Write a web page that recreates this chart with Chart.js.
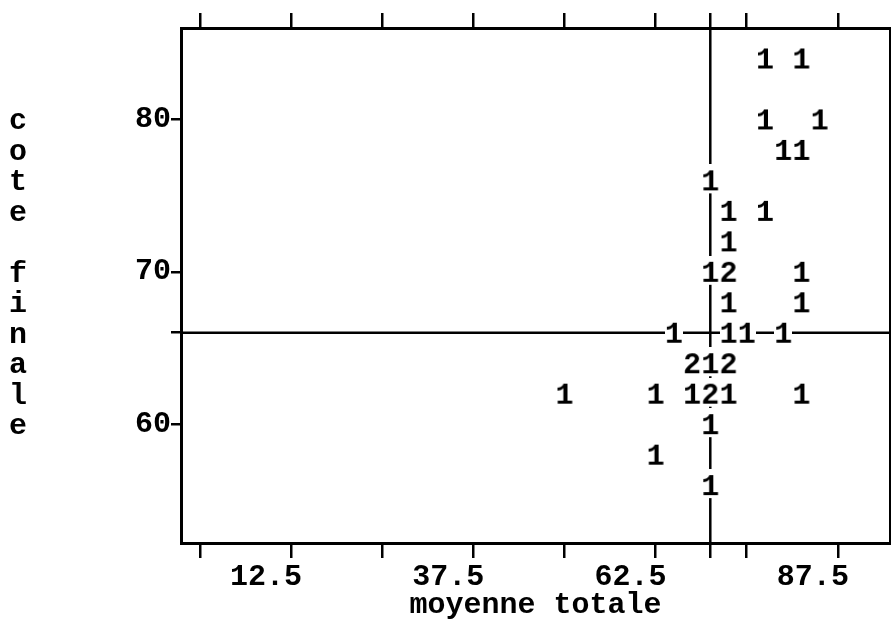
<!DOCTYPE html>
<html>
<head>
<meta charset="utf-8">
<script src="https://cdn.jsdelivr.net/npm/chart.js@4.4.1/dist/chart.umd.min.js"></script>
<style>
  html, body { margin: 0; padding: 0; background: #fff; }
</style>
</head>
<body>
<canvas id="plot" width="891" height="620"></canvas>
<script>
// one entry per printed cell: moyenne totale, cote finale, number of students
const xValues = [77.5, 82.5, 77.5, 85, 80, 82.5, 70, 72.5, 77.5, 72.5, 70, 72.5, 82.5, 72.5, 82.5,
                 65, 72.5, 75, 80, 67.5, 70, 72.5, 50, 62.5, 67.5, 70, 72.5, 82.5, 70, 62.5, 70];
const yValues = [84, 84, 80, 80, 78, 78, 76, 74, 74, 72, 70, 70, 70, 68, 68,
                 66, 66, 66, 66, 64, 64, 64, 62, 62, 62, 62, 62, 62, 60, 58, 56];
const counts  = [1, 1, 1, 1, 1, 1, 1, 1, 1, 1, 1, 2, 1, 1, 1,
                 1, 1, 1, 1, 2, 1, 2, 1, 1, 1, 2, 1, 1, 1, 1, 1];

// reference lines
const refX = 70;
const refY = 66;

// axes
const xTicks = [0, 12.5, 25, 37.5, 50, 62.5, 75, 87.5];
const xTickLabels = [12.5, 37.5, 62.5, 87.5];
const yTicks = [60, 70, 80];
const xMin = -2.6, xMax = 94.65;
const yMin = 52.2, yMax = 86;

const xTitle = 'moyenne totale';
const yTitle = 'cote finale';

const FONT = '"Liberation Mono", "DejaVu Sans Mono", monospace';
const FONT_SIZE = 30;

// digit drawn on a white cell, so the reference lines break around it
function digitImage(n) {
    const c = document.createElement('canvas');
    c.width = 18;
    c.height = 32;
    const g = c.getContext('2d');
    g.fillStyle = '#fff';
    g.fillRect(0, 0, 18, 29);
    g.font = 'bold ' + FONT_SIZE + 'px ' + FONT;
    g.fillStyle = '#000';
    g.textAlign = 'center';
    const m = g.measureText(String(n));
    const base = 16 + (m.actualBoundingBoxAscent - m.actualBoundingBoxDescent) / 2;
    g.fillText(String(n), 9, base);
    return c;
}
const digits = { 1: digitImage(1), 2: digitImage(2) };

const marks = xValues.map((x, i) => ({ x: x, y: yValues[i] }));

const tickFont = { family: FONT, size: FONT_SIZE, weight: 'bold', lineHeight: 1 };

function setTicks(values) {
    return function (scale) {
        scale.ticks = values.slice().sort((a, b) => a - b).map(v => ({ value: v }));
    };
}

// keep the frame where it is in the picture: no extra room for labels
function fixSize(w, h) {
    return function (s) {
        if (w !== null) s.width = w;
        if (h !== null) s.height = h;
        s.paddingLeft = 0;
        s.paddingRight = 0;
        s.paddingTop = 0;
        s.paddingBottom = 0;
    };
}

const verticalTitle = {
    id: 'verticalTitle',
    afterDraw(chart) {
        const ctx = chart.ctx;
        const y = chart.scales.y;
        ctx.save();
        ctx.font = 'bold ' + FONT_SIZE + 'px ' + FONT;
        ctx.fillStyle = '#000';
        ctx.textAlign = 'center';
        ctx.textBaseline = 'alphabetic';
        for (let i = 0; i < yTitle.length; i++) {
            // one letter per printed row, starting on the row of 80
            ctx.fillText(yTitle[i], 18, y.getPixelForValue(80 - 2 * i) + 10);
        }
        ctx.restore();
    }
};

const ctx = document.getElementById('plot').getContext('2d');
new Chart(ctx, {
    type: 'scatter',
    data: {
        datasets: [{
            data: marks,
            order: 0,
            pointStyle: c => digits[counts[c.dataIndex]],
            pointRadius: 5,
            pointHoverRadius: 5
        }, {
            data: [{ x: refX, y: yMin }, { x: refX, y: yMax }],
            order: 1,
            showLine: true,
            borderColor: '#000',
            borderWidth: 2.5,
            pointRadius: 0
        }, {
            data: [{ x: xMin, y: refY }, { x: xMax, y: refY }],
            order: 1,
            showLine: true,
            borderColor: '#000',
            borderWidth: 2.5,
            pointRadius: 0
        }]
    },
    options: {
        responsive: false,
        devicePixelRatio: 1,
        animation: false,
        events: [],
        layout: { padding: 0, autoPadding: false },
        plugins: {
            legend: { display: false },
            tooltip: { enabled: false }
        },
        scales: {
            x: {
                type: 'linear',
                position: 'bottom',
                min: xMin,
                max: xMax,
                afterBuildTicks: setTicks(xTicks.concat([refX])),
                afterFit: fixSize(null, 77),
                ticks: {
                    autoSkip: false,
                    maxRotation: 0,
                    color: '#000',
                    font: tickFont,
                    padding: 4,
                    labelOffset: -25,
                    callback: v => xTickLabels.includes(v) ? String(v) : ''
                },
                grid: { drawOnChartArea: false, drawTicks: true, tickLength: 15, color: '#000', lineWidth: 2.5 },
                border: { display: true, color: '#000', width: 3 },
                title: {
                    display: true,
                    text: xTitle,
                    color: '#000',
                    font: tickFont,
                    padding: { top: 0, bottom: 0 }
                }
            },
            x2: {
                type: 'linear',
                position: 'top',
                min: xMin,
                max: xMax,
                afterBuildTicks: setTicks(xTicks.concat([refX])),
                afterFit: fixSize(null, 28),
                ticks: { autoSkip: false, maxRotation: 0, callback: () => '' },
                grid: { drawOnChartArea: false, drawTicks: true, tickLength: 15, color: '#000', lineWidth: 2.5 },
                border: { display: true, color: '#000', width: 3 }
            },
            y: {
                type: 'linear',
                position: 'left',
                min: yMin,
                max: yMax,
                afterBuildTicks: setTicks(yTicks.concat([refY])),
                afterFit: fixSize(181, null),
                ticks: {
                    autoSkip: false,
                    color: '#000',
                    font: tickFont,
                    padding: 0,
                    callback: v => yTicks.includes(v) ? String(v) : ''
                },
                grid: { drawOnChartArea: false, drawTicks: true, tickLength: 10, color: '#000', lineWidth: 2.5 },
                border: { display: true, color: '#000', width: 3 }
            },
            y2: {
                type: 'linear',
                position: 'right',
                min: yMin,
                max: yMax,
                afterFit: fixSize(1, null),
                ticks: { display: false },
                grid: { display: false, drawTicks: false },
                border: { display: true, color: '#000', width: 3 }
            }
        }
    },
    plugins: [verticalTitle]
});
</script>
</body>
</html>
